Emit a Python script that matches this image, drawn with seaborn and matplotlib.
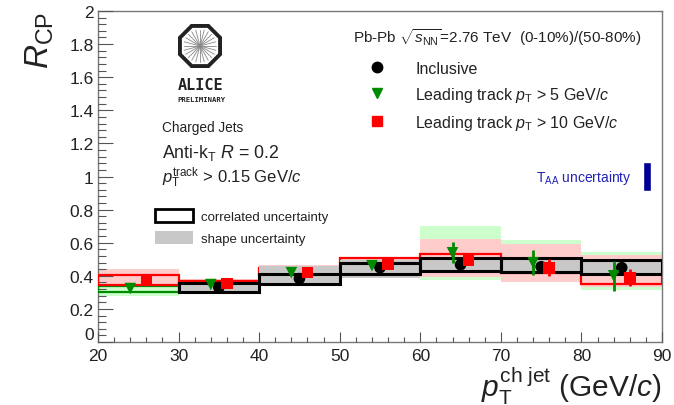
import numpy as np
import pandas as pd
import matplotlib
matplotlib.use("Agg")
import matplotlib.pyplot as plt
from matplotlib.lines import Line2D
from matplotlib.patches import Patch, RegularPolygon
import seaborn as sns

# --- data ---
bin_lo = [20, 30, 40, 50, 60, 70, 80]
bin_w = 10

# inclusive (black)
incl_val = [np.nan, 0.330, 0.383, 0.449, 0.467, 0.455, 0.449]
incl_err = [np.nan, 0.005, 0.005, 0.008, 0.010, 0.010, 0.022]
incl_corr_lo = [np.nan, 0.300, 0.353, 0.413, 0.431, 0.425, 0.413]
incl_corr_hi = [np.nan, 0.359, 0.413, 0.479, 0.509, 0.509, 0.497]
incl_shape_lo = [np.nan, 0.297, 0.347, 0.389, 0.431, 0.425, 0.413]
incl_shape_hi = [np.nan, 0.362, 0.461, 0.498, 0.509, 0.509, 0.497]

# leading track pT > 5 GeV/c (green)
lt5_val = [0.323, 0.347, 0.419, 0.461, 0.539, 0.479, 0.400]
lt5_err = [0.005, 0.005, 0.005, 0.010, 0.063, 0.075, 0.092]
lt5_corr_lo = [0.300, np.nan, np.nan, np.nan, np.nan, np.nan, np.nan]
lt5_corr_hi = [0.341, np.nan, np.nan, np.nan, np.nan, np.nan, np.nan]
lt5_shape_lo = [0.275, np.nan, np.nan, np.nan, 0.377, 0.365, 0.317]
lt5_shape_hi = [0.347, np.nan, np.nan, np.nan, 0.700, 0.617, 0.545]

# leading track pT > 10 GeV/c (red)
lt10_val = [0.377, 0.353, 0.419, 0.473, 0.497, 0.449, 0.389]
lt10_err = [0.010, 0.010, 0.010, 0.010, 0.030, 0.050, 0.050]
lt10_corr_lo = [0.347, 0.330, 0.390, 0.440, 0.460, 0.419, 0.353]
lt10_corr_hi = [0.407, 0.371, 0.450, 0.505, 0.533, 0.480, 0.420]
lt10_shape_lo = [0.335, 0.330, 0.390, 0.440, 0.395, 0.365, 0.335]
lt10_shape_hi = [0.443, 0.380, 0.465, 0.512, 0.623, 0.593, 0.527]

taa_unc = 0.085

GREEN = "#008a00"
RED = "#ff0000"
BLACK = "#000000"
TXT = "#222222"

sns.set_style("ticks", {"xtick.direction": "in", "ytick.direction": "in"})
plt.rcParams["font.family"] = ["Liberation Sans", "DejaVu Sans"]
plt.rcParams["mathtext.fontset"] = "custom"
plt.rcParams["mathtext.rm"] = "Liberation Sans"
plt.rcParams["mathtext.it"] = "Liberation Sans:italic"
plt.rcParams["mathtext.bf"] = "Liberation Sans:bold"
plt.rcParams["axes.axisbelow"] = False

fig = plt.figure(figsize=(6.74, 4.06), dpi=100)
ax = fig.add_axes([98 / 674, 1 - 343 / 406, (662 - 98) / 674, (343 - 12) / 406])

lo = np.array(bin_lo, dtype=float)


def boxes(lower, upper, z, **kw):
    lower = np.array(lower)
    upper = np.array(upper)
    m = ~np.isnan(lower)
    ax.bar(lo[m], upper[m] - lower[m], bottom=lower[m], width=bin_w,
           align="edge", zorder=z, **kw)


# shape uncertainty bands
boxes(lt5_shape_lo, lt5_shape_hi, 1, color="#ccffcc", lw=0)
boxes(lt10_shape_lo, lt10_shape_hi, 2, color="#ffcccc", lw=0)
# correlated boxes of the leading-track selections
boxes(lt5_corr_lo, lt5_corr_hi, 3, fill=False, edgecolor=GREEN, lw=1.6)
boxes(lt10_corr_lo, lt10_corr_hi, 4, fill=False, edgecolor=RED, lw=1.6)
# inclusive shape + correlated
boxes(incl_shape_lo, incl_shape_hi, 5, color="#c8c8c8", lw=0)
boxes(incl_corr_lo, incl_corr_hi, 6, fill=False, edgecolor=BLACK, lw=2.2)

# points
centers = lo + bin_w / 2
series = [("Inclusive", incl_val, incl_err, 0.0, BLACK),
          ("lt5", lt5_val, lt5_err, -1.0, GREEN),
          ("lt10", lt10_val, lt10_err, 1.0, RED)]
rows = []
for name, val, err, off, col in series:
    for c, v, e in zip(centers, val, err):
        if not np.isnan(v):
            rows.append({"pt": c + off, "rcp": v, "err": e, "series": name})
df = pd.DataFrame(rows)

for name, val, err, off, col in series:
    d = df[df.series == name]
    ax.errorbar(d.pt, d.rcp, yerr=d.err, fmt="none", ecolor=col,
                elinewidth=2, capsize=0, zorder=7)

sns.scatterplot(data=df, x="pt", y="rcp", hue="series", style="series",
                palette={"Inclusive": BLACK, "lt5": GREEN, "lt10": RED},
                markers={"Inclusive": "o", "lt5": "v", "lt10": "s"},
                s=70, linewidth=0, legend=False, zorder=8, ax=ax)

# T_AA uncertainty bar
ax.bar([88.1], [2 * taa_unc], bottom=1 - taa_unc, width=1.0,
       color="#000099", zorder=6)
ax.text(86.3, 1.0, r"T$_{\rm AA}$ uncertainty", color="#2222bb",
        fontsize=10, ha="right", va="center")

# axes
ax.set_xlim(20, 90)
ax.set_ylim(0, 2)
ax.set_xticks(np.arange(20, 91, 10))
ax.set_xticks(np.arange(20, 91, 2), minor=True)
ax.set_yticks(np.arange(0, 2.01, 0.2))
ax.set_yticks(np.arange(0, 2.01, 0.04), minor=True)
ax.set_yticklabels(["0", "0.2", "0.4", "0.6", "0.8", "1", "1.2", "1.4",
                    "1.6", "1.8", "2"])
ax.tick_params(axis="both", which="both", direction="in", color="#555555",
               labelsize=12.5, labelcolor=TXT, width=0.8,
               bottom=True, left=True, top=False, right=False)
ax.tick_params(axis="y", which="major", length=10.5, pad=3)
ax.tick_params(axis="y", which="minor", length=5.5)
ax.tick_params(axis="x", which="major", length=7, pad=4.5)
ax.tick_params(axis="x", which="minor", length=3.5)
# keep the "0" of the y axis clear of the "20" below it
ax.get_yticklabels()[0].set_verticalalignment("bottom")
for sp in ax.spines.values():
    sp.set_color("#777777")
    sp.set_linewidth(1.0)

ax.set_xlabel(r"$p_{\rm T}^{\rm ch\ jet}$ (GeV/$c$)", fontsize=21.5,
              loc="right", labelpad=1, color=TXT)
ax.set_ylabel(r"$R_{\rm CP}$", fontsize=24, loc="top", labelpad=10,
              color=TXT)

# legend of the three selections
handles = [Line2D([], [], ls="none", marker="o", color=BLACK, ms=7.5),
           Line2D([], [], ls="none", marker="v", color=GREEN, ms=7.5),
           Line2D([], [], ls="none", marker="s", color=RED, ms=7.5)]
labels = ["Inclusive", r"Leading track $p_{\rm T}$ > 5 GeV/$c$",
          r"Leading track $p_{\rm T}$ > 10 GeV/$c$"]
leg1 = ax.legend(handles, labels, loc="upper left",
                 bbox_to_anchor=(369 / 674, 1 - 62 / 406),
                 bbox_transform=fig.transFigure, frameon=False,
                 fontsize=11.5, handlelength=1.0, handletextpad=1.9,
                 labelspacing=0.55, borderpad=0, borderaxespad=0,
                 labelcolor=TXT)
ax.add_artist(leg1)

# legend of the uncertainty boxes
handles2 = [Patch(facecolor="white", edgecolor=BLACK, lw=2.0),
            Patch(facecolor="#c8c8c8", edgecolor="none")]
ax.legend(handles2, ["correlated uncertainty", "shape uncertainty"],
          loc="upper left", bbox_to_anchor=(155 / 674, 1 - 210 / 406),
          bbox_transform=fig.transFigure, frameon=False, fontsize=9.5,
          handlelength=2.9, handleheight=1.1, handletextpad=0.6,
          labelspacing=0.65, borderpad=0, borderaxespad=0, labelcolor=TXT)

# annotations
fig.text(353 / 674, 1 - 38 / 406,
         r"Pb-Pb $\sqrt{s_{\rm NN}}$=2.76 TeV  (0-10%)/(50-80%)",
         fontsize=11, va="center", color=TXT)
fig.text(162 / 674, 1 - 128 / 406, "Charged Jets", fontsize=9.8,
         va="center", color=TXT)
fig.text(162 / 674, 1 - 153 / 406, r"Anti-k$_{\rm T}$ $R$ = 0.2",
         fontsize=12.8, va="center", color=TXT)
fig.text(162 / 674, 1 - 178 / 406,
         r"$p_{\rm T}^{\rm track}$ > 0.15 GeV/$c$", fontsize=12,
         va="center", color=TXT)

# ALICE logo
lax = fig.add_axes([175 / 674, 1 - 71 / 406, 50 / 674, 48 / 406])
lax.set_xlim(-1.05, 1.05)
lax.set_ylim(-1.05, 1.05)
lax.set_aspect("equal")
lax.axis("off")
for a in np.linspace(0, np.pi, 13)[:-1]:
    lax.plot([-0.72 * np.cos(a), 0.72 * np.cos(a)],
             [-0.72 * np.sin(a), 0.72 * np.sin(a)], color="#888888", lw=0.6)
lax.add_patch(RegularPolygon((0, 0), 8, radius=0.95, orientation=np.pi / 8,
                             facecolor="none", edgecolor="#222222", lw=2.8))
fig.text(201 / 674, 1 - 86 / 406, "ALICE", fontsize=11, weight="bold",
         family="DejaVu Sans Mono", ha="center", va="center", color=TXT)
fig.text(201 / 674, 1 - 100 / 406, "PRELIMINARY", fontsize=5.2, weight="bold",
         family="DejaVu Sans Mono", ha="center", va="center", color=TXT)

fig.savefig("out.png", dpi=100)
